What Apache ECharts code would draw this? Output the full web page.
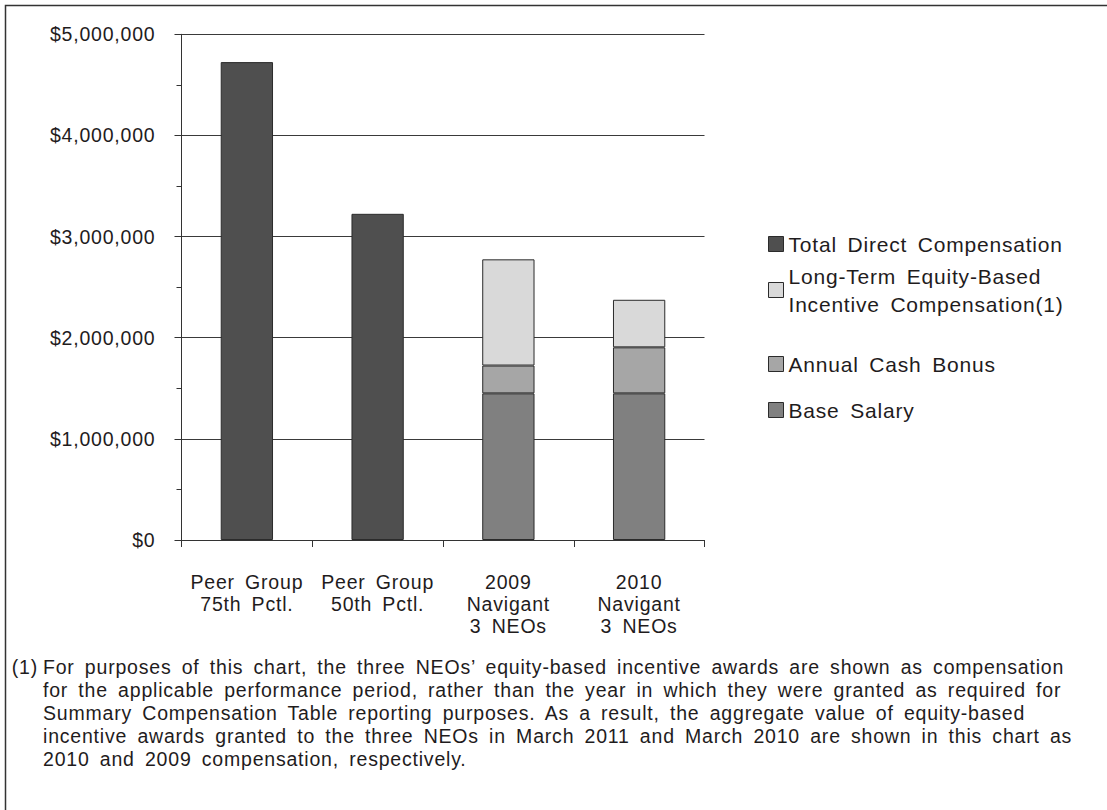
<!DOCTYPE html>
<html>
<head>
<meta charset="utf-8">
<title>Compensation Comparison</title>
<script src="https://cdn.jsdelivr.net/npm/echarts@6/dist/echarts.min.js"></script>
<style>
  html, body { margin: 0; padding: 0; background: #ffffff; }
  #chart { width: 1107px; height: 810px; }
  /* the printed typeface is loosely tracked */
  #chart text { letter-spacing: 0.8px; word-spacing: 4px; }
</style>
</head>
<body>
<div id="chart"></div>
<script>
// Groups compared on the x axis
const categories = [
  'Peer Group\n75th Pctl.',
  'Peer Group\n50th Pctl.',
  '2009\nNavigant\n3 NEOs',
  '2010\nNavigant\n3 NEOs'
];

// Series values in dollars ('-' = no bar for that group)
const totalDirect = [4725000, 3225000, '-', '-'];
const baseSalary = ['-', '-', 1450000, 1450000];
const annualBonus = ['-', '-', 275000, 455000];
const longTermEquity = ['-', '-', 1050000, 470000];

// Value axis ticks
const yMin = 0;
const yMax = 5000000;
const yStep = 1000000;

const seriesNames = {
  total: 'Total Direct Compensation',
  lti: 'Long-Term Equity-Based\nIncentive Compensation(1)',
  bonus: 'Annual Cash Bonus',
  base: 'Base Salary'
};

const footnoteMarker = '(1)';
const footnoteLines = [
  'For purposes of this chart, the three NEOs\u2019 equity-based incentive awards are shown as compensation',
  'for the applicable performance period, rather than the year in which they were granted as required for',
  'Summary Compensation Table reporting purposes. As a result, the aggregate value of equity-based',
  'incentive awards granted to the three NEOs in March 2011 and March 2010 are shown in this chart as',
  '2010 and 2009 compensation, respectively.'
];

const FONT = '"Liberation Sans", Arial, Helvetica, sans-serif';
const INK = '#1f1c1d';
const EDGE = '#2b2b2b';

function barSeries(name, data, color) {
  return {
    name: name,
    type: 'bar',
    stack: 'comp',
    data: data,
    barWidth: '40%',
    itemStyle: { color: color, borderColor: EDGE, borderWidth: 1 },
    emphasis: { disabled: true }
  };
}

const chart = echarts.init(document.getElementById('chart'), null, { renderer: 'svg' });

chart.setOption({
  animation: false,
  backgroundColor: '#ffffff',
  textStyle: { fontFamily: FONT, color: INK },
  grid: {
    left: 181.5,
    right: 402.5,
    top: 34.3,
    bottom: 270,
    containLabel: false,
    outerBoundsMode: 'none'
  },
  legend: {
    orient: 'vertical',
    left: 768,
    top: 230,
    padding: 0,
    itemGap: -10,
    itemWidth: 15,
    itemHeight: 15,
    icon: 'rect',
    selectedMode: false,
    itemStyle: { borderColor: EDGE, borderWidth: 1 },
    textStyle: { fontFamily: FONT, fontSize: 21, color: INK, lineHeight: 28 },
    data: [
      { name: seriesNames.total },
      { name: seriesNames.lti, textStyle: { padding: [28, 0, 0, 0] } },
      { name: seriesNames.bonus, textStyle: { padding: [28, 0, 28, 0] } },
      { name: seriesNames.base }
    ]
  },
  xAxis: {
    type: 'category',
    data: categories,
    axisLine: { lineStyle: { color: '#333333', width: 1 } },
    axisTick: { show: true, length: 7, lineStyle: { color: '#333333' } },
    axisLabel: {
      margin: 31,
      fontFamily: FONT,
      fontSize: 19.5,
      lineHeight: 22,
      color: INK,
      interval: 0
    }
  },
  yAxis: {
    type: 'value',
    min: yMin,
    max: yMax,
    interval: yStep,
    axisLine: { show: true, lineStyle: { color: '#333333', width: 1 } },
    axisTick: { show: true, length: 7, lineStyle: { color: '#333333' } },
    minorTick: { show: true, splitNumber: 2, length: 5, lineStyle: { color: '#333333' } },
    splitLine: { show: true, lineStyle: { color: '#3a3a3a', width: 1 } },
    axisLabel: {
      margin: 26,
      fontFamily: FONT,
      fontSize: 19.5,
      color: INK,
      formatter: function (v) { return '$' + v.toLocaleString('en-US'); }
    }
  },
  series: [
    barSeries(seriesNames.total, totalDirect, '#4f4f4f'),
    barSeries(seriesNames.base, baseSalary, '#808080'),
    barSeries(seriesNames.bonus, annualBonus, '#a6a6a6'),
    barSeries(seriesNames.lti, longTermEquity, '#d9d9d9')
  ],
  graphic: [
    {
      // frame along the top and left edges
      type: 'rect',
      silent: true,
      shape: { x: 5.5, y: 5.5, width: 1300, height: 1000 },
      style: { fill: 'none', stroke: '#333333', lineWidth: 1.5 }
    },
    {
      type: 'text',
      x: 38,
      y: 655,
      silent: true,
      style: { text: footnoteMarker, font: '19.5px ' + FONT, fill: INK, lineHeight: 23, align: 'right' }
    },
    {
      type: 'text',
      x: 43,
      y: 655,
      silent: true,
      style: { text: footnoteLines.join('\n'), font: '19.5px ' + FONT, fill: INK, lineHeight: 23 }
    }
  ]
});
</script>
</body>
</html>
